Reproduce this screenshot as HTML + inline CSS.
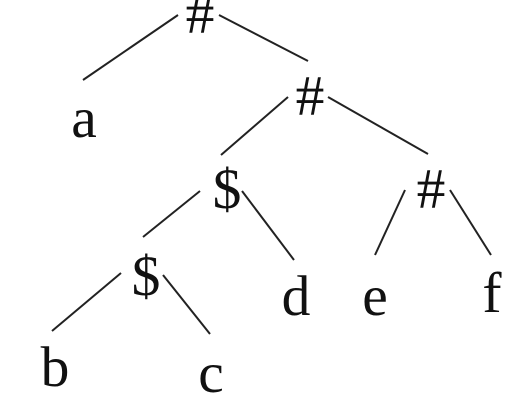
<!DOCTYPE html>
<html><head><meta charset="utf-8"><style>
html,body{margin:0;padding:0;background:#fff;}
#wrap{position:relative;width:517px;height:409px;overflow:hidden;}
svg{position:absolute;left:0;top:0;display:block;}
line{stroke:#222;stroke-width:2;}
.lbl{position:absolute;font-family:"Liberation Serif","DejaVu Serif",serif;font-size:50px;line-height:1;color:#111;width:60px;text-align:center;white-space:nowrap;}
</style></head><body>
<div id="wrap">
<svg id="tree" width="517" height="409" viewBox="0 0 517 409"></svg>
</div>
<script>
const labels = ["#","a","#","$","#","$","d","e","f","b","c"];
const labelX = [200,84,310,227,431,146,296,375,492,55,211];
const labelY = [33,137,115,208,208,295,315,315,312,386,392];
const labelNames = ["root-hash","leaf-a","hash-2","dollar-1","hash-3","dollar-2","leaf-d","leaf-e","leaf-f","leaf-b","leaf-c"];
const edges = [[178,15,83,80],[219,15,308,61],[288,97,221,155],[328,97,428,154],[200,191,143,237],[242,191,294,260],[405,190,375,255],[450,190,491,255],[121,273,52,331],[163,275,210,334]];
const svg = document.getElementById('tree');
const wrap = document.getElementById('wrap');
const NS = "http://www.w3.org/2000/svg";
edges.forEach((e,i)=>{
  const l = document.createElementNS(NS,'line');
  l.setAttribute('x1',e[0]);l.setAttribute('y1',e[1]);l.setAttribute('x2',e[2]);l.setAttribute('y2',e[3]);
  
  
  svg.appendChild(l);
});
const fs = 50, base = 0.837*fs, sy = 1.15, sx = 1.15;
labels.forEach((t,i)=>{
  const d = document.createElement('div');
  d.className = 'lbl';
  d.textContent = t;
  d.style.left = (labelX[i]-30)+'px';
  d.style.top = (labelY[i]-base)+'px';
  d.style.transformOrigin = '50% '+base+'px';
  d.style.transform = 'scale('+sx+','+sy+')';
  
  
  wrap.appendChild(d);
});
</script>
</body></html>
